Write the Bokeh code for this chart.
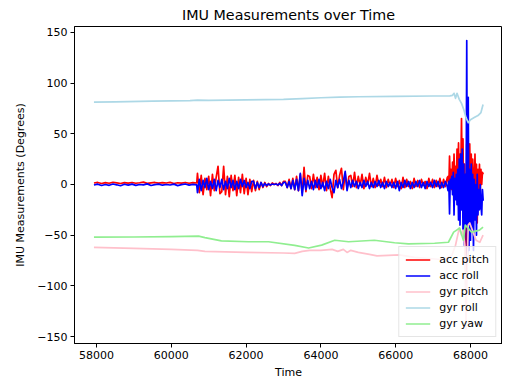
import numpy as np
from bokeh.plotting import figure
from bokeh.models import FixedTicker, Range1d, Spacer
from bokeh.layouts import row, column
from bokeh.embed import file_html
from bokeh.resources import INLINE

# ---------------- data ----------------
# accelerometer: sampled segments (start time, end time) with hand-read values
acc_segments = [(57932, 60680), (60700, 62150), (62200, 63000), (63050, 63650),
                (63700, 64750), (64800, 65850), (65900, 67380), (67400, 68340)]

acc_pitch_a = [1.5, 2, 1, 1.8, 1.2, 2.2, 1.6, 1, 1.9, 1.4, 2, 1.2, 1.7, 2.3, 1.1, 1.6, 2, 1.3, 1.8, 1.5, 2.1, 1, 1.7, 1.4, 2, 1.2, 1.8, 1.5]
acc_pitch_b = [11, -8, 9, -10, 6, -5, 8, -11, 10, -6, 7, 18, -9, -7, 18, -10, 8, -12, 9, -6, 9, -11, 7, -8, 10, -9, 6, -10, 5, -7]
acc_pitch_c = [4, -6, 3, -5, 2, -3, 2, -2, 1, -1, 1.5, 0, 1, -1, 2, -1, 3]
acc_pitch_d1 = [3, -3, 5, -4, 6, -5, 8, -6, 10, -8, 17, -7, 9]
acc_pitch_d2 = [8, -4, 10, -3, 7, -5, 9, -2, 11, -6, 8, -4, -13, 10, 14, -3, 9, 16, -5, 11, -4, 8]
acc_pitch_d3 = [9, -2, 12, -3, 8, -1, 10, -4, 7, 0, 11, -2, 6, -3, 9, -1, 5, -2, 7, -3, 5, -1]
acc_pitch_d4 = [5, -3, 6, -2, 4, -4, 7, -3, 5, -2, 3, -4, 6, -2, 4, -3, 5, -1, 3, -4, 6, -2, 5, -3, 4, -2, 6, -3, 5, -2, 7]
acc_pitch_e = [8, -4, 28, 2, 15, -5, 22, 0, 30, -3, 18, -5, 35, 5, 41, -5, 30, 10,
               65, -3, 45, -40, 20, -60, -95, 40, -20, 35, -15, 40, -10, 30, -20, 25, 5, -15,
               30, -10, 20, -38, 15, -5, 20, -8, 15, 0, 12, 10]

acc_roll_a = [-0.5, 0.3, -1, 0, -0.8, 0.5, -0.3, -1.2, 0.2, -0.6, 0.4, -0.9, 0, -0.4, 0.6, -1, -0.2, 0.3, -0.7, 0, -0.5, 0.4, -1.1, -0.2, 0.5, -0.6, 0.1, -0.4]
acc_roll_b = [-8, 5, -6, 4, -3, 6, -5, 3, -4, 5, -6, 4, -3, 5, -5, 3, -4, 6, -3, 4, -5, 3, -4, 5, -2, 4, -3, 2, -4, 3]
acc_roll_c = [3, -4, 2, -3, 2, -2, 1, -1, 0.5, -0.5, 0.5, 0, 0.5, -0.5, 1, -1, 2]
acc_roll_d1 = [2, -3, 3, -4, 4, -5, 5, -6, 11, -11, 6, -5, 4]
acc_roll_d2 = [-4, 3, -5, 4, -3, 5, -4, 2, -6, 3, -4, 5, -3, -8, 4, -3, 5, -4, 3, 13, -6, 4]
acc_roll_d3 = [-3, 4, -2, 3, -4, 2, -3, 4, -2, 3, -4, 2, -3, 3, -2, 4, -3, 2, -4, 3, -2, 2]
acc_roll_d4 = [-3, 2, -4, 3, -6, 2, -3, 4, -2, 3, -4, 2, -3, 3, -2, 4, -3, 2, -4, 3, -2, 2, -3, 4, -2, 3, -4, 2, -3, 3, -2]
acc_roll_e = [-6, 3, -29, 5, -4, 8, -10, 12, -30, 6, -15, 10, -20, 15, -35, 25, -40, 30,
              -25, 35, -45, 20, -60, 10, -40, 142, -75, 86, -65, 15, -55, 20, -45, 10, -65, 5,
              -35, 0, -50, 10, -30, -5, -25, 0, -20, -30, -5, -16]

# gyroscope: smooth traces (time, value)
gyr_roll_t = [57932, 58500, 59500, 60500, 60700, 61000, 62000, 63000, 63500, 64000, 64500, 65000, 66000, 67000,
              67450, 67520, 67560, 67600, 67640, 67700, 67760, 67820, 67880, 67940, 68000, 68100, 68200, 68280, 68336]
gyr_roll_v = [81.2, 81.6, 82.2, 82.8, 83.3, 83, 83.5, 84, 84.8, 85.6, 86.3, 86.6, 87, 87.3,
              87.5, 88, 90, 85, 90, 84, 80, 74, 66, 61, 64, 66, 68, 71, 79]

gyr_pitch_t = [57932, 59000, 60000, 60700, 60900, 62000, 63000, 63300, 63500, 63700, 64000, 64300, 64450, 64600,
               64700, 64800, 65000, 65300, 65500, 65800, 66100, 66500, 66900, 67200, 67400, 67500, 67600, 67700,
               67760, 67800, 67850, 67880, 67900, 67940, 67980, 68050, 68150, 68250, 68336]
gyr_pitch_v = [-62, -63, -64, -65, -66, -67, -67.6, -68, -66, -65, -65, -64, -66, -64,
               -67, -65, -67, -69, -70.5, -70, -69.5, -72, -73, -74, -72, -70, -60, -43,
               -50, -45, -60, -142.7, -100, -40, -38, -45, -55, -57, -50]

gyr_yaw_t = [57932, 59000, 60000, 60730, 60900, 61340, 62060, 62600, 63300, 63670, 64020, 64370, 64740, 65430,
             65970, 66340, 67040, 67410, 67550, 67630, 67710, 67810, 67860, 68030, 68240, 68336]
gyr_yaw_v = [-52, -51.8, -51.5, -51, -52.5, -55.7, -56.5, -56.5, -60, -62.7, -59.8, -55, -56.5, -55,
             -57.5, -58.5, -58, -57, -47, -45, -43, -55, -40, -47, -45, -42]

x_ticks = [58000, 60000, 62000, 64000, 66000, 68000]
y_ticks = [-150, -100, -50, 0, 50, 100, 150]
y_tick_labels = ["\u2212150", "\u2212100", "\u221250", "0", "50", "100", "150"]

# -------------- build acc arrays --------------
def build(segs):
    ts, vs = [], []
    for (a, b), vals in zip(acc_segments, segs):
        ts.extend(np.linspace(a, b, len(vals)))
        vs.extend(vals)
    return np.array(ts), np.array(vs, dtype=float)

acc_t, acc_pitch = build([acc_pitch_a, acc_pitch_b, acc_pitch_c, acc_pitch_d1, acc_pitch_d2, acc_pitch_d3, acc_pitch_d4, acc_pitch_e])
_, acc_roll = build([acc_roll_a, acc_roll_b, acc_roll_c, acc_roll_d1, acc_roll_d2, acc_roll_d3, acc_roll_d4, acc_roll_e])

FONT = "DejaVu Sans"

p = figure(frame_width=428, frame_height=317, output_backend="svg", toolbar_location=None,
           x_range=Range1d(57412, 68856), y_range=Range1d(-156.9, 155.9),
           title="IMU Measurements over Time",
           min_border_left=0, min_border_right=0, min_border_top=0, min_border_bottom=0)

lw = 1.7
p.line(acc_t, acc_pitch, color="red", line_width=lw, line_join="round", legend_label="acc pitch")
p.line(acc_t, acc_roll, color="blue", line_width=lw, line_join="round", legend_label="acc roll")
p.line(gyr_pitch_t, gyr_pitch_v, color="pink", line_width=lw, line_join="round", legend_label="gyr pitch")
p.line(gyr_roll_t, gyr_roll_v, color="lightblue", line_width=lw, line_join="round", legend_label="gyr roll")
p.line(gyr_yaw_t, gyr_yaw_v, color="lightgreen", line_width=lw, line_join="round", legend_label="gyr yaw")

p.title.align = "center"
p.title.text_font = FONT
p.title.text_font_size = "14.3px"
p.title.text_font_style = "normal"
p.title.text_color = "black"
p.title.standoff = 7

p.xgrid.visible = False
p.ygrid.visible = False
p.outline_line_color = "black"
p.outline_line_width = 1
p.outline_line_alpha = 1

p.xaxis.ticker = FixedTicker(ticks=x_ticks)
p.yaxis.ticker = FixedTicker(ticks=y_ticks)
p.yaxis.major_label_overrides = {t: s for t, s in zip(y_ticks, y_tick_labels)}
p.xaxis.axis_label = "Time"
p.yaxis.axis_label = "IMU Measurements (Degrees)"
for ax in (p.xaxis[0], p.yaxis[0]):
    ax.major_label_text_font = FONT
    ax.major_label_text_font_size = "11px"
    ax.major_label_text_color = "black"
    ax.axis_label_text_font = FONT
    ax.axis_label_text_font_size = "11px"
    ax.axis_label_text_font_style = "normal"
    ax.axis_label_text_color = "black"
    ax.minor_tick_line_color = None
    ax.major_tick_in = 0
    ax.major_tick_out = 4
    ax.major_tick_line_color = "black"
    ax.axis_line_color = "black"
    ax.major_label_standoff = 3
p.yaxis[0].axis_label_standoff = 7
p.xaxis[0].axis_label_standoff = 4

lg = p.legend[0]
lg.location = "bottom_right"
lg.label_text_font = FONT
lg.label_text_font_size = "11px"
lg.label_text_color = "black"
lg.glyph_width = 25
lg.glyph_height = 13
lg.label_height = 13
lg.label_standoff = 9
lg.spacing = 3
lg.padding = 6
lg.margin = 6
lg.border_line_color = "#cccccc"
lg.border_line_width = 1
lg.background_fill_alpha = 0.8

layout = column(Spacer(height=1), row(Spacer(width=11), p))
open("out.html", "w").write(file_html(layout, INLINE))
